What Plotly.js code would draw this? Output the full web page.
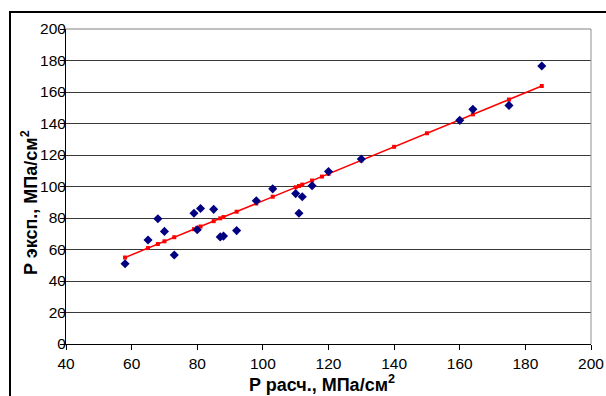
<!DOCTYPE html>
<html>
<head>
<meta charset="utf-8">
<script src="https://cdn.plot.ly/plotly-3.0.1.min.js"></script>
<style>
  html, body { margin: 0; padding: 0; background: #fff; }
  #wrap { position: relative; width: 606px; height: 396px; overflow: hidden; }
  #frame { position: absolute; left: 9px; top: 11px; width: 700px; height: 500px;
           border-left: 2px solid #000; border-top: 2px solid #000; }
  #chart { position: absolute; left: 0; top: 0; width: 606px; height: 396px; }
</style>
</head>
<body>
<div id="wrap">
  <div id="frame"></div>
  <div id="chart"></div>
</div>
<script>
// Experimental points (P расч. vs P эксп.)
const expX = [58, 65, 68, 70, 73, 79, 80, 81, 85, 87, 88, 92, 98, 103, 110, 111, 112, 115, 120, 130, 160, 164, 175, 185];
const expY = [51, 66, 79.5, 71.5, 56.5, 83, 72.5, 86, 85.5, 68, 68.5, 72, 91, 98.5, 95.5, 83, 93.5, 100.5, 109.5, 117.5, 142, 149, 151.5, 176.5];

// Fitted (red) line points
const fitX = [58, 65, 68, 70, 73, 79, 80, 81, 85, 87, 88, 92, 98, 103, 110, 111, 112, 115, 118, 120, 130, 140, 150, 160, 164, 175, 185];
const fitY = [54.9, 60.9, 63.5, 65.2, 67.8, 72.9, 73.8, 74.6, 78.0, 79.8, 80.6, 84.0, 89.2, 93.5, 99.5, 100.3, 101.2, 103.8, 106.3, 108.0, 116.6, 125.2, 133.8, 142.4, 145.8, 155.2, 163.8];

const xTicks = [40, 60, 80, 100, 120, 140, 160, 180, 200];
const yTicks = [0, 20, 40, 60, 80, 100, 120, 140, 160, 180, 200];

const xTitle = 'P расч., МПа/см<sup>2</sup>';
const yTitle = 'P эксп., МПа/см<sup>2</sup>';

const font = 'Liberation Sans, Arial, sans-serif';

const traces = [
  {
    x: fitX, y: fitY, type: 'scatter', mode: 'lines+markers',
    line: { color: '#ff0000', width: 1.5 },
    marker: { symbol: 'square', size: 4, color: '#ff0000' },
    hoverinfo: 'skip'
  },
  {
    x: expX, y: expY, type: 'scatter', mode: 'markers',
    marker: { symbol: 'diamond', size: 7, color: '#000080' }
  }
];

const layout = {
  width: 606, height: 396,
  margin: { l: 66, r: 15, t: 29, b: 52 },
  paper_bgcolor: 'rgba(0,0,0,0)',
  plot_bgcolor: 'rgba(0,0,0,0)',
  showlegend: false,
  font: { family: font, size: 15, color: '#000' },
  xaxis: {
    range: [40, 200], tickvals: xTicks, ticktext: xTicks.map(String),
    showgrid: false, zeroline: false,
    showline: true, linecolor: '#000', linewidth: 1,
    ticks: 'outside', ticklen: 5, tickcolor: '#000', tickwidth: 1,
    tickfont: { family: font, size: 15.5, color: '#000' }
  },
  yaxis: {
    range: [0, 200], tickvals: yTicks, ticktext: yTicks.map(String),
    showgrid: true, gridcolor: '#383838', gridwidth: 1,
    zeroline: false,
    showline: true, linecolor: '#000', linewidth: 1,
    ticks: 'outside', ticklen: 5, tickcolor: '#000', tickwidth: 1,
    ticklabelstandoff: -9,
    tickfont: { family: font, size: 15.5, color: '#000' }
  },
  shapes: [
    { type: 'line', xref: 'paper', yref: 'paper', x0: 1, x1: 1, y0: 0, y1: 1,
      line: { color: '#909090', width: 1 } },
    { type: 'line', xref: 'paper', yref: 'paper', x0: 0, x1: 1, y0: 1, y1: 1,
      line: { color: '#808080', width: 1 } }
  ],
  annotations: [
    { text: xTitle, xref: 'paper', yref: 'paper', x: 0.487, y: -0.124,
      xanchor: 'center', yanchor: 'middle', showarrow: false,
      font: { family: font, size: 18, color: '#000', weight: 'bold' } },
    { text: yTitle, xref: 'paper', yref: 'paper', x: -0.0686, y: 0.451,
      xanchor: 'center', yanchor: 'middle', showarrow: false, textangle: -90,
      font: { family: font, size: 18, color: '#000', weight: 'bold' } }
  ]
};

Plotly.newPlot('chart', traces, layout, { staticPlot: true, displayModeBar: false });
</script>
</body>
</html>
